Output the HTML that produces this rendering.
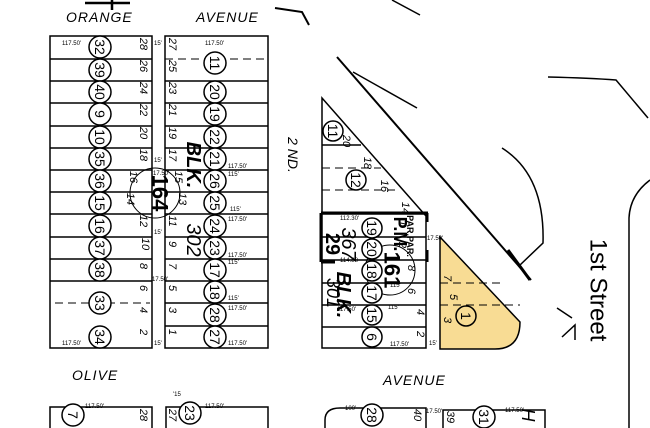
<!DOCTYPE html>
<html><head><meta charset="utf-8"><style>
html,body{margin:0;padding:0;background:#fff;}
svg{display:block;}
text{font-family:"Liberation Sans",sans-serif;fill:#000;}
.c{font-size:14px;}
.n{font-size:11px;font-style:italic;}
.d{font-size:6px;}
.st{font-size:14px;font-style:italic;letter-spacing:1px;}
</style></head><body>
<svg width="650" height="428" viewBox="0 0 650 428" xmlns="http://www.w3.org/2000/svg">
<rect width="650" height="428" fill="#fff"/>
<g stroke="#000" fill="none" stroke-width="1.5">
<path d="M85 3 H130 M112 0 V10" stroke-width="2.5"/>
<path d="M275 8 L302 12 L309 25" stroke-width="2"/>
<path d="M392 0 L420 15"/>
<path d="M337 57 L531 280" stroke-width="2"/>
<path d="M353 72 L417 108"/>
<path d="M548 77 Q590 78 616 80 L648 118"/>
<path d="M502 148 Q545 175 543 243 L520 265"/>
<path d="M508 250 L530 280" stroke-width="3"/>
<path d="M650 180 Q630 195 629 218 V428"/>
<path d="M557 308 L572 318 M562 337 L575 325 V340"/>
<rect x="50" y="36" width="102" height="312"/>
<rect x="165" y="36" width="103" height="312"/>
<path d="M50 59H152M50 81H152M50 103H152M50 126H152M50 148H152M50 170H152M50 192H152M50 214H152M50 237H152M50 259H152M50 281H152"/>
<path d="M165 81H268M165 103H268M165 126H268M165 148H268M165 170H268M165 192H268M165 214H268M165 237H268M165 259H268M165 281H268M165 303H268M165 326H268"/>
<path d="M165 59H268M55 303H150" stroke-dasharray="8,5" stroke-width="1"/>
<circle cx="155" cy="193" r="25" stroke-width="1"/>
<path d="M322 98 L426 216 V348 H322 Z"/>
<path d="M322 145H361M322 214H426M322 237H426M322 260H426M322 283H426M322 305H426M322 327H426"/>
<path d="M322 168H381M322 190H400" stroke-dasharray="8,5" stroke-width="1"/>
<path d="M321 213 H428 M321 213 V262 M427 213 V222 M427 250 V262 M321 262 H335" stroke-width="3"/>
<circle cx="390" cy="270" r="25" stroke-width="1"/>
<rect x="50" y="407" width="102" height="30"/>
<rect x="166" y="407" width="102" height="30"/>
<path d="M325 440 V420 Q325 408 340 408 H426 V440"/>
<rect x="443" y="410" width="102" height="30"/>
</g>
<path d="M440 237 L440 349 H495 Q520 349 520 322 L440 237 Z" fill="#f8dc94" stroke="#000" stroke-width="1.5"/>
<path d="M440 283H505M440 305H520" stroke="#000" stroke-dasharray="8,5" fill="none"/>
<g fill="#fff" stroke="#000" stroke-width="1.5">
<circle cx="100" cy="47" r="11"/><circle cx="100" cy="70" r="11"/><circle cx="100" cy="92" r="11"/><circle cx="100" cy="114" r="11"/><circle cx="100" cy="137" r="11"/><circle cx="100" cy="159" r="11"/><circle cx="100" cy="181" r="11"/><circle cx="100" cy="203" r="11"/><circle cx="100" cy="226" r="11"/><circle cx="100" cy="248" r="11"/><circle cx="100" cy="270" r="11"/><circle cx="100" cy="303" r="11"/><circle cx="100" cy="337" r="11"/>
<circle cx="215" cy="63" r="11"/><circle cx="215" cy="92" r="11"/><circle cx="215" cy="114" r="11"/><circle cx="215" cy="137" r="11"/><circle cx="215" cy="159" r="11"/><circle cx="215" cy="181" r="11"/><circle cx="215" cy="203" r="11"/><circle cx="215" cy="226" r="11"/><circle cx="215" cy="248" r="11"/><circle cx="215" cy="270" r="11"/><circle cx="215" cy="292" r="11"/><circle cx="215" cy="315" r="11"/><circle cx="215" cy="337" r="11"/>
<circle cx="333" cy="131" r="10"/><circle cx="356" cy="180" r="10"/>
<circle cx="372" cy="228" r="10"/><circle cx="372" cy="249" r="10"/><circle cx="372" cy="271" r="10"/><circle cx="372" cy="293" r="10"/><circle cx="372" cy="315" r="10"/><circle cx="372" cy="337" r="10"/>
<circle cx="73" cy="415" r="11"/><circle cx="190" cy="413" r="11"/><circle cx="372" cy="415" r="11"/><circle cx="484" cy="417" r="11"/>
</g>
<circle cx="466" cy="316" r="10" fill="none" stroke="#000" stroke-width="1.5"/>
<g class="c" text-anchor="middle" dominant-baseline="central">
<text transform="translate(100,47) rotate(90)">32</text><text transform="translate(100,70) rotate(90)">39</text><text transform="translate(100,92) rotate(90)">40</text><text transform="translate(100,114) rotate(90)">9</text><text transform="translate(100,137) rotate(90)">10</text><text transform="translate(100,159) rotate(90)">35</text><text transform="translate(100,181) rotate(90)">36</text><text transform="translate(100,203) rotate(90)">15</text><text transform="translate(100,226) rotate(90)">16</text><text transform="translate(100,248) rotate(90)">37</text><text transform="translate(100,270) rotate(90)">38</text><text transform="translate(100,303) rotate(90)">33</text><text transform="translate(100,337) rotate(90)">34</text>
<text transform="translate(215,63) rotate(90)">11</text><text transform="translate(215,92) rotate(90)">20</text><text transform="translate(215,114) rotate(90)">19</text><text transform="translate(215,137) rotate(90)">22</text><text transform="translate(215,159) rotate(90)">21</text><text transform="translate(215,181) rotate(90)">26</text><text transform="translate(215,203) rotate(90)">25</text><text transform="translate(215,226) rotate(90)">24</text><text transform="translate(215,248) rotate(90)">23</text><text transform="translate(215,270) rotate(90)">17</text><text transform="translate(215,292) rotate(90)">18</text><text transform="translate(215,315) rotate(90)">28</text><text transform="translate(215,337) rotate(90)">27</text>
<text transform="translate(333,131) rotate(90)">11</text><text transform="translate(356,180) rotate(90)">12</text>
<text transform="translate(372,228) rotate(90)">19</text><text transform="translate(372,249) rotate(90)">20</text><text transform="translate(372,271) rotate(90)">18</text><text transform="translate(372,293) rotate(90)">17</text><text transform="translate(372,315) rotate(90)">15</text><text transform="translate(372,337) rotate(90)">6</text>
<text transform="translate(466,316) rotate(90)">1</text>
<text transform="translate(73,415) rotate(90)">7</text><text transform="translate(190,413) rotate(90)">23</text><text transform="translate(372,415) rotate(90)">28</text><text transform="translate(484,417) rotate(90)">31</text>
<text transform="translate(160,193) rotate(90)" font-size="22" font-weight="bold">164</text>
<text transform="translate(392,270) rotate(90)" font-size="22" font-weight="bold">161</text>
<text transform="translate(193,165) rotate(90)" font-size="20" font-weight="bold" font-style="italic">BLK.</text>
<text transform="translate(193,240) rotate(90)" font-size="20" font-style="italic">302</text>
<text transform="translate(348,244) rotate(90)" font-size="20" font-style="italic">367</text>
<text transform="translate(332,244) rotate(90)" font-size="20" font-weight="bold">29</text>
<text transform="translate(343,295) rotate(90)" font-size="20" font-weight="bold" font-style="italic">BLK.</text>
<text transform="translate(333,293) rotate(90)" font-size="18" font-style="italic">301</text>
<text transform="translate(400,234) rotate(90)" font-size="18" font-weight="bold">P.M.</text>
<text transform="translate(410,236) rotate(90)" font-size="9" font-weight="bold">PAR.PAR.</text>
<text transform="translate(598,290) rotate(90)" font-size="24">1st Street</text>
<text transform="translate(293,155) rotate(90)" font-size="14" font-style="italic">2 ND.</text>
<text transform="translate(528,415) rotate(90)" font-size="18" font-style="italic">H</text>
</g>
<g class="n" text-anchor="middle" dominant-baseline="central">
<text transform="translate(143,44) rotate(90)">28</text><text transform="translate(143,66) rotate(90)">26</text><text transform="translate(143,88) rotate(90)">24</text><text transform="translate(143,110) rotate(90)">22</text><text transform="translate(143,133) rotate(90)">20</text><text transform="translate(143,155) rotate(90)">18</text><text transform="translate(133,177) rotate(90)">16</text><text transform="translate(130,199) rotate(90)">14</text><text transform="translate(143,221) rotate(90)">12</text><text transform="translate(145,244) rotate(90)">10</text><text transform="translate(143,266) rotate(90)">8</text><text transform="translate(143,288) rotate(90)">6</text><text transform="translate(143,310) rotate(90)">4</text><text transform="translate(143,332) rotate(90)">2</text>
<text transform="translate(172,44) rotate(90)">27</text><text transform="translate(172,66) rotate(90)">25</text><text transform="translate(172,88) rotate(90)">23</text><text transform="translate(172,110) rotate(90)">21</text><text transform="translate(172,133) rotate(90)">19</text><text transform="translate(172,155) rotate(90)">17</text><text transform="translate(178,177) rotate(90)">15</text><text transform="translate(182,199) rotate(90)">13</text><text transform="translate(172,221) rotate(90)">11</text><text transform="translate(172,244) rotate(90)">9</text><text transform="translate(172,266) rotate(90)">7</text><text transform="translate(172,288) rotate(90)">5</text><text transform="translate(172,310) rotate(90)">3</text><text transform="translate(172,332) rotate(90)">1</text>
<text transform="translate(346,141) rotate(90)">20</text><text transform="translate(367,163) rotate(90)">18</text><text transform="translate(384,186) rotate(90)">16</text><text transform="translate(405,208) rotate(90)">14</text><text transform="translate(402,223) rotate(90)">1</text><text transform="translate(402,245) rotate(90)">2</text><text transform="translate(411,268) rotate(90)">8</text><text transform="translate(411,291) rotate(90)">6</text><text transform="translate(420,312) rotate(90)">4</text><text transform="translate(420,334) rotate(90)">2</text>
<text transform="translate(447,278) rotate(90)">7</text><text transform="translate(453,297) rotate(90)">5</text><text transform="translate(447,320) rotate(90)">3</text>
<text transform="translate(143,415) rotate(90)">28</text><text transform="translate(172,415) rotate(90)">27</text><text transform="translate(417,415) rotate(90)">40</text><text transform="translate(450,417) rotate(90)">39</text>
</g>
<g class="d">
<text x="62" y="45">117.50'</text><text x="205" y="45">117.50'</text><text x="228" y="168">117.50'</text><text x="228" y="176">115'</text><text x="230" y="211">115'</text><text x="228" y="221">117.50'</text><text x="228" y="257">117.50'</text><text x="228" y="264">115'</text><text x="228" y="300">115'</text><text x="228" y="310">117.50'</text><text x="228" y="345">117.50'</text><text x="62" y="345">117.50'</text>
<text x="154" y="45">15'</text><text x="154" y="162">15'</text><text x="153" y="175">17.50'</text><text x="154" y="234">15'</text><text x="152" y="281">17.50'</text><text x="154" y="345">15'</text>
<text x="340" y="220">112.30'</text><text x="340" y="262">114.88</text><text x="390" y="287">115'</text><text x="388" y="309">115'</text><text x="337" y="311">117.50'</text><text x="390" y="346">117.50'</text><text x="427" y="240">17.50'</text><text x="429" y="345">15'</text>
<text x="85" y="408">117.50'</text><text x="205" y="408">117.50'</text><text x="345" y="410">100'</text><text x="505" y="412">117.50'</text><text x="426" y="413">17.50'</text>
<text x="173" y="396">'15</text>
</g>
<g class="st">
<text x="66" y="22">ORANGE</text><text x="196" y="22">AVENUE</text>
<text x="72" y="380">OLIVE</text><text x="383" y="385">AVENUE</text>
</g>
</svg>
</body></html>
